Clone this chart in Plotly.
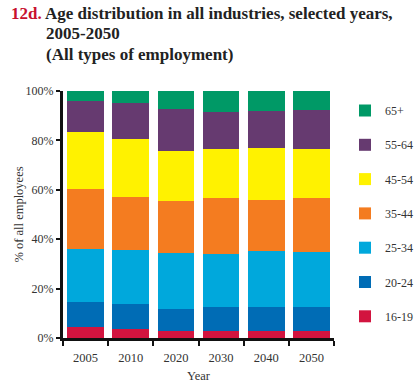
import plotly.graph_objects as go

years = ["2005", "2010", "2020", "2030", "2040", "2050"]
age_groups = ["16-19", "20-24", "25-34", "35-44", "45-54", "55-64", "65+"]
colors = ["#d2143f", "#006cb5", "#00a8dc", "#f47c20", "#fff200", "#663a70", "#009966"]

share_16_19 = [4.3, 3.8, 3.0, 3.0, 3.0, 3.0]
share_20_24 = [10.1, 10.1, 8.9, 9.7, 9.7, 9.7]
share_25_34 = [21.7, 21.8, 22.6, 21.5, 22.6, 22.2]
share_35_44 = [24.4, 21.4, 21.0, 22.3, 20.6, 21.8]
share_45_54 = [22.9, 23.5, 20.3, 20.0, 21.1, 19.8]
share_55_64 = [12.6, 14.5, 16.9, 15.0, 14.9, 15.8]
share_65_up = [4.0, 4.9, 7.3, 8.5, 8.1, 7.7]

series = [share_16_19, share_20_24, share_25_34, share_35_44, share_45_54, share_55_64, share_65_up]

SERIF = "Liberation Serif"
TXT = "#333333"
W, H = 417, 389

# plot area in window pixels
PL, PR, PT, PB = 63, 334, 91, 338


def px(X):
    return (X - PL) / (PR - PL)


def py(Y):
    return (PB - Y) / (PB - PT)


fig = go.Figure()
n = len(age_groups)
for i, (name, vals, col) in enumerate(zip(age_groups, series, colors)):
    fig.add_trace(go.Bar(
        x=years, y=vals, name=name, legendgroup=name, legendrank=n - i,
        marker=dict(color=col, line=dict(width=0)),
    ))

fig.update_layout(
    barmode="stack",
    bargap=0.19,
    width=W, height=H,
    margin=dict(l=PL, r=W - PR, t=PT, b=H - PB, autoexpand=False),
    paper_bgcolor="white", plot_bgcolor="white",
    font=dict(family=SERIF, size=12, color=TXT),
    showlegend=True,
    legend=dict(
        x=px(345), xanchor="left", y=py(96), yanchor="top",
        traceorder="grouped", tracegroupgap=15.3,
        font=dict(family=SERIF, size=12, color=TXT),
        bgcolor="rgba(0,0,0,0)",
    ),
    xaxis=dict(
        showline=True, linecolor="#111111", linewidth=3,
        ticks="outside", tickson="boundaries", ticklen=5, tickwidth=1.5, tickcolor="#111111",
        tickfont=dict(family=SERIF, size=12.5, color=TXT),
        ticklabelstandoff=6,
        title=dict(text="Year", font=dict(family=SERIF, size=12.5, color=TXT), standoff=8),
        showgrid=False, automargin=False,
    ),
    yaxis=dict(
        range=[0, 100], tickvals=[0, 20, 40, 60, 80, 100],
        ticktext=["0%", "20%", "40%", "60%", "80%", "100%"],
        showline=True, linecolor="#111111", linewidth=3,
        ticks="outside", ticklen=4, tickwidth=1.5, tickcolor="#111111",
        tickfont=dict(family=SERIF, size=12, color=TXT),
        title=dict(text="% of all employees", font=dict(family=SERIF, size=12.5, color=TXT), standoff=0),
        showgrid=False, zeroline=False, automargin=False,
    ),
)

title_y = [13.5, 33.5, 54]

fig.add_annotation(
    xref="paper", yref="paper", x=px(9), y=py(title_y[0]), xanchor="left", yanchor="middle",
    text="<b><span style='color:#c8102e'>12d.</span> Age distribution in all industries, selected years,</b>",
    showarrow=False, align="left",
    font=dict(family=SERIF, size=17, color="#222222"),
)
for line, ly in zip(["2005-2050", "(All types of employment)"], title_y[1:]):
    fig.add_annotation(
        xref="paper", yref="paper", x=px(44), y=py(ly), xanchor="left", yanchor="middle",
        text="<b>" + line + "</b>", showarrow=False, align="left",
        font=dict(family=SERIF, size=17, color="#222222"),
    )

fig.write_html(
    "out.html",
    config={"displayModeBar": False},
    post_script="document.body.style.margin='0';document.body.style.overflow='hidden';",
)
